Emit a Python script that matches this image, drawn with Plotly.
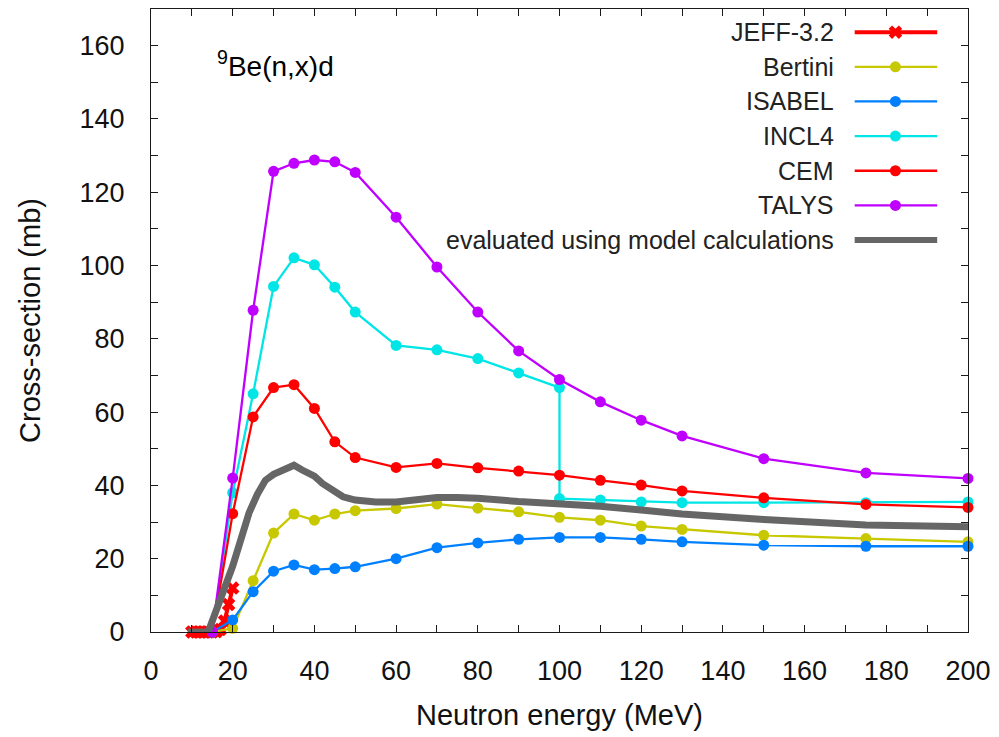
import plotly.graph_objects as go

# ---------------- data ----------------
E_jeff = [10, 11, 12, 13, 14, 15, 16, 17, 18, 19, 20]
jeff = [0, 0, 0, 0, 0, 0, 0.1, 0.7, 3.0, 7.5, 12.0]

E_models = [15, 20, 25, 30, 35, 40, 45, 50, 60, 70, 80, 90, 100, 110, 120, 130, 150, 175, 200]
bertini = [0, 1.0, 14.0, 27.0, 32.2, 30.5, 32.2, 33.1, 33.7, 34.9, 33.8, 32.8, 31.3, 30.5, 28.9, 28.0, 26.4, 25.5, 24.6]
isabel = [0, 3.3, 11.0, 16.6, 18.3, 17.0, 17.3, 17.8, 20.0, 23.0, 24.3, 25.3, 25.8, 25.8, 25.3, 24.6, 23.7, 23.4, 23.4]
cem = [0, 32.3, 58.7, 66.7, 67.5, 61.0, 51.9, 47.6, 44.9, 46.0, 44.8, 43.9, 42.8, 41.4, 40.1, 38.5, 36.6, 34.8, 34.0]
talys = [0, 42.0, 87.8, 125.7, 127.9, 128.8, 128.3, 125.4, 113.2, 99.6, 87.3, 76.7, 68.9, 62.8, 57.8, 53.5, 47.3, 43.4, 41.9]

E_incl = [15, 20, 25, 30, 35, 40, 45, 50, 60, 70, 80, 90, 100, 100, 110, 120, 130, 150, 175, 200]
incl4 = [0, 38.0, 65.0, 94.3, 102.1, 100.2, 94.1, 87.3, 78.2, 77.0, 74.6, 70.7, 66.7, 36.4, 36.0, 35.5, 35.3, 35.3, 35.3, 35.5]

E_eval = [9, 14, 20, 22, 24, 26, 28, 30, 32, 35, 37, 40, 42, 45, 47, 50, 55, 60, 65, 70, 75, 80,
          90, 100, 110, 120, 130, 150, 175, 200]
evaluated = [0, 0, 18.0, 25.0, 32.5, 37.5, 41.4, 43.0, 44.2, 45.5, 44.2, 42.5, 40.5, 38.0, 36.9, 36.0, 35.5,
             35.5, 36.1, 36.7, 36.7, 36.5, 35.6, 35.0, 34.3, 33.3, 32.2, 30.7, 29.2, 28.7]

series_names = ["JEFF-3.2", "Bertini", "ISABEL", "INCL4", "CEM", "TALYS",
                "evaluated using model calculations"]
x_ticks = [0, 20, 40, 60, 80, 100, 120, 140, 160, 180, 200]
y_ticks = [0, 20, 40, 60, 80, 100, 120, 140, 160]

# ---------------- styles ----------------
FONT = "Liberation Sans, Arial, sans-serif"
colors = ["#ff0000", "#c8c800", "#0080ff", "#00e6e6", "#ff0000", "#c000ff", "#666666"]
widths = [4, 2.3, 2.3, 2.3, 2.3, 2.3, 7]
symbols = ["x", "circle", "circle", "circle", "circle", "circle", None]
msizes = [12, 11, 11, 11, 11, 11, 0]

datasets = [(E_jeff, jeff), (E_models, bertini), (E_models, isabel), (E_incl, incl4),
            (E_models, cem), (E_models, talys), (E_eval, evaluated)]

fig = go.Figure()
for i, (xs, ys) in enumerate(datasets):
    if symbols[i] is None:
        fig.add_trace(go.Scatter(x=xs, y=ys, mode="lines",
                                 line=dict(color=colors[i], width=widths[i]),
                                 showlegend=False, hoverinfo="skip"))
    else:
        fig.add_trace(go.Scatter(x=xs, y=ys, mode="lines+markers",
                                 line=dict(color=colors[i], width=widths[i]),
                                 marker=dict(symbol=symbols[i], size=msizes[i], color=colors[i],
                                             line=dict(width=0)),
                                 cliponaxis=False, showlegend=False, hoverinfo="skip"))

# ---------------- gnuplot-style key (text left, sample right) ----------------
L, R, T, B = 151, 973, 8, 632
W, H = R - L, B - T
def px2x(px):
    return (px - L) / W
def py2y(py):
    return (B - py) / H

row0, dy = 31.2, 34.7
for i, name in enumerate(series_names):
    yk = py2y(row0 + i * dy)
    fig.add_trace(go.Scatter(x=[px2x(859), px2x(942)], y=[yk, yk], mode="lines",
                             line=dict(color=colors[i], width=widths[i] if i < 6 else 6),
                             xaxis="x2", yaxis="y2", showlegend=False, hoverinfo="skip"))
    if symbols[i] is not None:
        fig.add_trace(go.Scatter(x=[px2x(900)], y=[yk], mode="markers",
                                 marker=dict(symbol=symbols[i], size=msizes[i], color=colors[i],
                                             line=dict(width=0)),
                                 xaxis="x2", yaxis="y2", showlegend=False, hoverinfo="skip"))
    fig.add_annotation(x=px2x(840), y=yk, xref="paper", yref="paper", text=name,
                       showarrow=False, xanchor="right", yanchor="middle",
                       font=dict(family=FONT, size=25, color="#222222"))

fig.add_annotation(x=px2x(215), y=py2y(63), xref="paper", yref="paper",
                   text="<sup>9</sup>Be(n,x)d", showarrow=False, xanchor="left", yanchor="middle",
                   font=dict(family=FONT, size=28, color="#000000"))

axis_common = dict(showgrid=False, zeroline=False, showline=True, linecolor="#1a1a1a", linewidth=1.3,
                   mirror="allticks", ticks="inside", ticklen=7, tickwidth=1, tickcolor="#1a1a1a",
                   tickfont=dict(family=FONT, size=27, color="#111111"))

fig.update_layout(
    width=999, height=737,
    margin=dict(l=L, r=999 - R, t=T, b=737 - B),
    paper_bgcolor="white", plot_bgcolor="white",
    xaxis=dict(range=[0, 200], tickvals=x_ticks, ticklabelstandoff=14,
               minor=dict(dtick=10, ticks="inside", ticklen=7, tickcolor="#1a1a1a"),
               title=dict(text="Neutron energy (MeV)", font=dict(family=FONT, size=29, color="#111111"),
                          standoff=20),
               **axis_common),
    yaxis=dict(range=[0, 170], tickvals=y_ticks, ticklabelstandoff=20,
               minor=dict(dtick=10, ticks="inside", ticklen=7, tickcolor="#1a1a1a"),
               title=dict(text="Cross-section (mb)", font=dict(family=FONT, size=29, color="#111111"),
                          standoff=30),
               **axis_common),
    xaxis2=dict(range=[0, 1], overlaying="x", visible=False),
    yaxis2=dict(range=[0, 1], overlaying="y", visible=False),
)

fig.write_html("out.html")
